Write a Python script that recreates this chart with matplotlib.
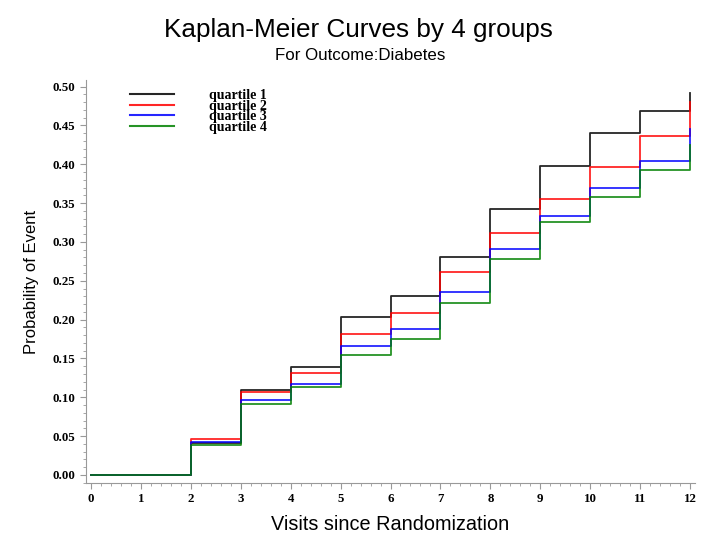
import matplotlib
matplotlib.use("Agg")
import matplotlib.pyplot as plt
from matplotlib.lines import Line2D
from matplotlib.ticker import MultipleLocator, FormatStrFormatter

visits = [0, 1, 2, 3, 4, 5, 6, 7, 8, 9, 10, 11, 12]
quartile1 = [0.0, 0.0, 0.041, 0.109, 0.139, 0.204, 0.230, 0.281, 0.342, 0.398, 0.440, 0.468, 0.492]
quartile2 = [0.0, 0.0, 0.046, 0.107, 0.131, 0.181, 0.209, 0.261, 0.312, 0.355, 0.397, 0.437, 0.480]
quartile3 = [0.0, 0.0, 0.042, 0.096, 0.117, 0.166, 0.188, 0.236, 0.291, 0.333, 0.369, 0.404, 0.446]
quartile4 = [0.0, 0.0, 0.038, 0.091, 0.113, 0.154, 0.175, 0.221, 0.278, 0.326, 0.358, 0.392, 0.425]
labels = ["quartile 1", "quartile 2", "quartile 3", "quartile 4"]
colors = ["#000000", "#ff0000", "#0000ff", "#008000"]

fig = plt.figure(figsize=(7.2, 5.41), dpi=100)
ax = fig.add_axes([86/720, 58/541, 609/720, 403/541])

for ys, c, lab in zip([quartile1, quartile2, quartile3, quartile4], colors, labels):
    ax.plot(visits, ys, drawstyle="steps-post", color=c, lw=1.3, label=lab, alpha=0.85)

ax.set_xlim(-0.1, 12.1)
ax.set_ylim(-0.0103, 0.5085)
ax.spines["top"].set_visible(False)
ax.spines["right"].set_visible(False)
for s in ["left", "bottom"]:
    ax.spines[s].set_color("#999999")
    ax.spines[s].set_linewidth(0.8)

ax.xaxis.set_major_locator(MultipleLocator(1))
ax.xaxis.set_minor_locator(MultipleLocator(0.2))
ax.yaxis.set_major_locator(MultipleLocator(0.05))
ax.yaxis.set_minor_locator(MultipleLocator(0.01))
ax.yaxis.set_major_formatter(FormatStrFormatter("%.2f"))
ax.tick_params(which="major", length=4, color="#999999", width=0.8)
ax.tick_params(which="minor", length=2, color="#999999", width=0.6)
for lbl in ax.get_xticklabels() + ax.get_yticklabels():
    lbl.set_fontfamily("Liberation Serif")
    lbl.set_fontweight("bold")
    lbl.set_fontsize(9.3)

ax.set_xlabel("Visits since Randomization", fontfamily="Liberation Sans", fontsize=14.3, labelpad=7)
ax.set_ylabel("Probability of Event", fontfamily="Liberation Sans", fontsize=12, labelpad=10)

fig.text(358/720, 1 - 30/541, "Kaplan-Meier Curves by 4 groups", ha="center", va="center",
         fontfamily="Liberation Sans", fontsize=18.8)
fig.text(360/720, 1 - 56/541, "For Outcome:Diabetes", ha="center", va="center",
         fontfamily="Liberation Sans", fontsize=12.2)

handles = [Line2D([], [], color=c, lw=1.5, alpha=0.85) for c in colors]
fs = 10
fpx = fs * 100 / 72
ax.legend(handles, labels, loc="upper left", bbox_to_anchor=(130/720, 1 - 89/541),
          bbox_transform=fig.transFigure, frameon=False, borderpad=0, borderaxespad=0,
          handlelength=44/fpx, handletextpad=35/fpx, labelspacing=-0.17,
          prop={"family": "Liberation Serif", "weight": "bold", "size": fs})

fig.savefig("out.png", dpi=100)
